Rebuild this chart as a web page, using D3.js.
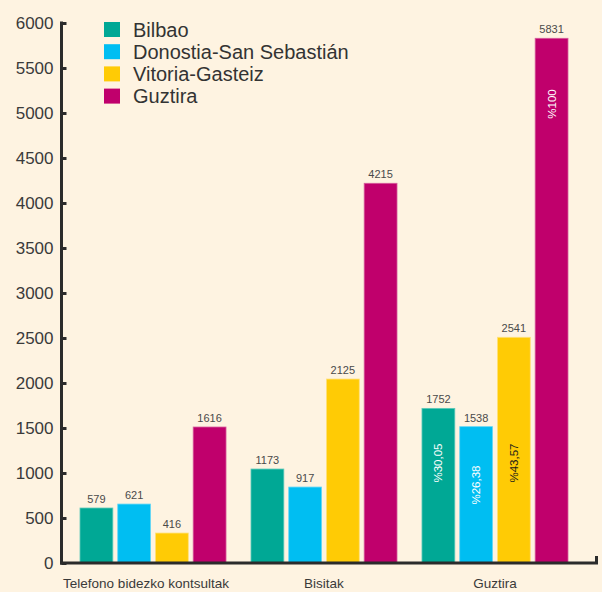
<!DOCTYPE html>
<html>
<head>
<meta charset="utf-8">
<script src="https://cdn.jsdelivr.net/npm/d3@7"></script>
<style>
  body { margin: 0; background: #fef3e1; }
  #chart { width: 602px; height: 592px; }
  text { font-family: "Liberation Sans", Arial, sans-serif; fill: #3a3a3a; }
</style>
</head>
<body>
<div id="chart"></div>
<script>
;(function() {
  // data
  var categories = ['Telefono bidezko kontsultak', 'Bisitak', 'Guztira']
  var series = ['Bilbao', 'Donostia-San Sebastián', 'Vitoria-Gasteiz', 'Guztira']
  // bar heights as drawn
  var bilbao = [611, 1044, 1718]
  var donostia = [655, 844, 1515]
  var vitoria = [333, 2044, 2508]
  var guztira = [1511, 4219, 5830]
  // printed labels over the bars
  var bilbaoLabels = ['579', '1173', '1752']
  var donostiaLabels = ['621', '917', '1538']
  var vitoriaLabels = ['416', '2125', '2541']
  var guztiraLabels = ['1616', '4215', '5831']
  var percentLabels = ['%30,05', '%26,38', '%43,57', '%100']
  var yTicks = [0, 500, 1000, 1500, 2000, 2500, 3000, 3500, 4000, 4500, 5000, 5500, 6000]

  var values = [bilbao, donostia, vitoria, guztira]
  var labels = [bilbaoLabels, donostiaLabels, vitoriaLabels, guztiraLabels]

  var width = 602
  var height = 592

  var svg = d3
    .select('#chart')
    .append('svg')
    .attr('width', width)
    .attr('height', height)

  svg.append('rect').attr('width', width).attr('height', height).attr('fill', '#fef3e1')

  var yScale = d3.scaleLinear().domain([0, 6000]).range([563, 23])

  var x0 = d3
    .scaleBand()
    .domain(categories)
    .range([80, 568])
    .paddingInner(0.146)
    .paddingOuter(0)

  var x1 = d3
    .scaleBand()
    .domain(series)
    .range([0, x0.bandwidth()])
    .paddingInner(0.13)
    .paddingOuter(0)

  var color = d3
    .scaleOrdinal()
    .domain(series)
    .range(['#00a895', '#00bef2', '#ffcb05', '#c0006c'])

  var edge = d3
    .scaleOrdinal()
    .domain(series)
    .range(['#5cc9b9', '#66d6f6', '#ffe07a', '#d65c9c'])

  // flatten into bar records
  var bars = []
  categories.forEach(function(c, ci) {
    series.forEach(function(s, si) {
      bars.push({ cat: c, ci: ci, series: s, si: si, value: values[si][ci], label: labels[si][ci] })
    })
  })

  svg
    .selectAll('.bar')
    .data(bars)
    .enter()
    .append('rect')
    .attr('class', 'bar')
    .attr('x', d => x0(d.cat) + x1(d.series))
    .attr('y', d => yScale(d.value))
    .attr('width', x1.bandwidth())
    .attr('height', d => yScale(0) - yScale(d.value))
    .attr('fill', d => color(d.series))
    .attr('stroke', d => edge(d.series))
    .attr('stroke-width', 0.8)

  svg
    .selectAll('.val')
    .data(bars)
    .enter()
    .append('text')
    .attr('class', 'val')
    .attr('x', d => x0(d.cat) + x1(d.series) + x1.bandwidth() / 2)
    .attr('y', d => yScale(d.value) - 5)
    .attr('text-anchor', 'middle')
    .style('font-size', '11px')
    .style('fill', '#4a4a4a')
    .text(d => d.label)

  // rotated percentages inside the Guztira group
  var pctY = [463, 485, 463, 104]
  var totalBars = bars.filter(d => d.ci === 2)
  svg
    .selectAll('.pct')
    .data(totalBars)
    .enter()
    .append('text')
    .attr('class', 'pct')
    .attr('transform', function(d, i) {
      var cx = x0(d.cat) + x1(d.series) + x1.bandwidth() / 2 + 4
      return 'translate(' + cx + ',' + pctY[i] + ') rotate(-90)'
    })
    .attr('text-anchor', 'middle')
    .style('font-size', '11.5px')
    .style('fill', d => (d.si === 2 ? '#1a1a1a' : '#ffffff'))
    .text((d, i) => percentLabels[i])

  // y axis
  var yAxis = d3
    .axisLeft(yScale)
    .tickValues(yTicks)
    .tickFormat(d3.format('d'))
    .tickSize(-5)
    .tickSizeOuter(0)
    .tickPadding(8)

  var gy = svg
    .append('g')
    .attr('transform', 'translate(61.5,0)')
    .call(yAxis)
  gy.select('.domain').remove()
  gy.selectAll('.tick line').attr('stroke', '#2b2b2b').attr('stroke-width', 3)
  gy.selectAll('.tick text')
    .style('font-size', '17px')
    .style('font-family', '"Liberation Sans", Arial, sans-serif')
    .attr('fill', '#3a3a3a')

  svg
    .append('line')
    .attr('x1', 61.5)
    .attr('x2', 61.5)
    .attr('y1', yScale(6000) - 1.5)
    .attr('y2', yScale(0) + 1.5)
    .attr('stroke', '#2b2b2b')
    .attr('stroke-width', 3)

  svg
    .append('path')
    .attr('d', 'M60,' + yScale(0) + 'H596.5V' + (yScale(0) - 7))
    .attr('fill', 'none')
    .attr('stroke', '#2b2b2b')
    .attr('stroke-width', 3)

  // category labels
  svg
    .selectAll('.cat')
    .data(categories)
    .enter()
    .append('text')
    .attr('class', 'cat')
    .attr('x', (d, i) => x0(d) + x0.bandwidth() / 2 - (i === 0 ? 7 : 0))
    .attr('y', 588)
    .attr('text-anchor', 'middle')
    .style('font-size', '13.5px')
    .text(d => d)

  // legend
  var legend = svg
    .selectAll('.legend')
    .data(series)
    .enter()
    .append('g')
    .attr('class', 'legend')
    .attr('transform', (d, i) => 'translate(104,' + (22 + i * 22.2) + ')')

  legend
    .append('rect')
    .attr('width', 16)
    .attr('height', 15)
    .attr('fill', d => color(d))

  legend
    .append('text')
    .attr('x', 29)
    .attr('y', 14.5)
    .style('font-size', '20px')
    .style('fill', '#333')
    .text(d => d)
})()
</script>
</body>
</html>
